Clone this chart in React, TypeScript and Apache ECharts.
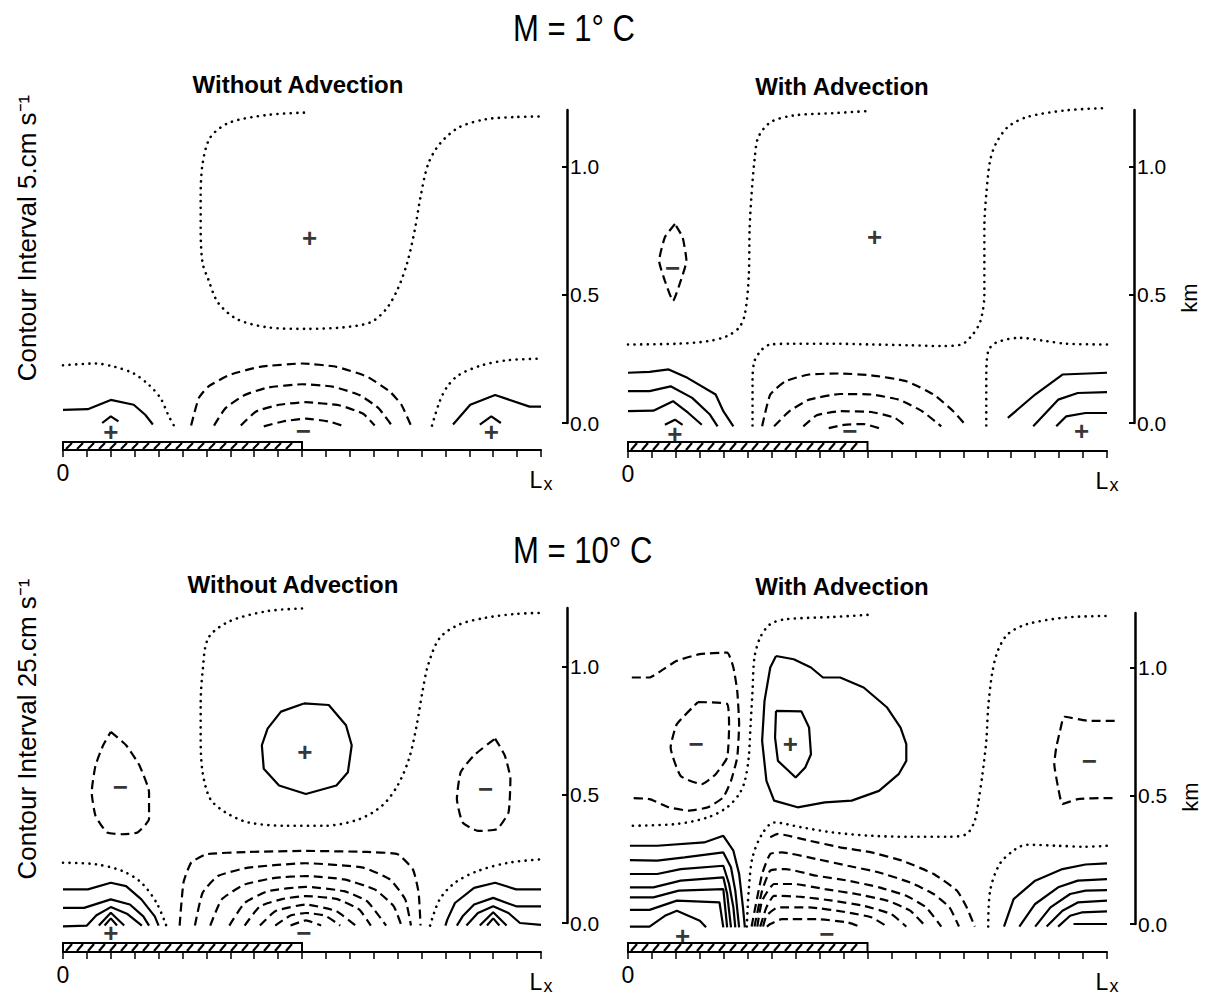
import React, { useEffect, useRef } from "react";
import * as echarts from "echarts";

type Pt = [number, number];

// ---------- text ----------
const mainTitles = ["M = 1° C", "M = 10° C"];
const panelTitles = ["Without Advection", "With Advection"];
const intervalLabels = ["Contour Interval 5.cm s⁻¹", "Contour Interval 25.cm s⁻¹"];
const unitLabel = "km";
const xTickLabels = ["0", "L", "x"];
const landSpan: Pt[] = [[0, 0.5]];

// ---------- M = 1 C, without advection ----------
const tlZero: Pt[][] = [
  [[0.504,1.21],[0.428,1.201],[0.348,1.171],[0.308,1.113],[0.292,1.01],[0.288,0.882],[0.288,0.753],[0.292,0.624],[0.304,0.56],[0.324,0.47],[0.364,0.405],[0.428,0.373],[0.508,0.367],[0.588,0.373],[0.644,0.393],[0.676,0.444],[0.7,0.521],[0.72,0.624],[0.736,0.753],[0.748,0.882],[0.764,1.01],[0.788,1.088],[0.828,1.152],[0.884,1.184],[0.948,1.193],[1.0,1.195]],
  [[0,0.225],[0.068,0.232],[0.108,0.219],[0.148,0.193],[0.18,0.148],[0.204,0.097],[0.22,0.032],[0.232,-0.01]],
  [[0.772,-0.01],[0.788,0.084],[0.804,0.142],[0.828,0.187],[0.876,0.225],[0.932,0.245],[1.0,0.251]],
];
const tlNeg: Pt[][] = [
  [[0.268,-0.01],[0.284,0.097],[0.304,0.142],[0.348,0.187],[0.412,0.219],[0.5,0.232],[0.572,0.219],[0.636,0.181],[0.684,0.122],[0.708,0.071],[0.728,-0.01]],
  [[0.316,-0.01],[0.34,0.058],[0.38,0.109],[0.428,0.138],[0.5,0.151],[0.564,0.142],[0.62,0.109],[0.66,0.058],[0.688,-0.01]],
  [[0.372,-0.01],[0.404,0.045],[0.452,0.071],[0.508,0.081],[0.58,0.068],[0.628,0.036],[0.652,-0.01]],
  [[0.42,-0.013],[0.46,0.006],[0.508,0.017],[0.556,0.006],[0.588,-0.013]],
];
const tlPos: Pt[][] = [
  [[0,0.051],[0.052,0.054],[0.1,0.09],[0.148,0.071],[0.172,0.032],[0.188,-0.006]],
  [[0.082,0.0],[0.1,0.026],[0.116,0.006]],
  [[0.816,-0.006],[0.852,0.071],[0.904,0.109],[0.976,0.064],[1.0,0.064]],
  [[0.872,-0.006],[0.896,0.026],[0.916,0.0]],
];
const tlPlus: Pt[] = [[0.1,-0.034],[0.896,-0.034],[0.516,0.721]];
const tlMinus: Pt[] = [[0.503,-0.032]];

// ---------- M = 1 C, with advection ----------
const trZero: Pt[][] = [
  [[0,0.306],[0.102,0.309],[0.167,0.319],[0.207,0.339],[0.232,0.372],[0.244,0.424],[0.252,0.567],[0.254,0.763],[0.258,0.893],[0.264,1.023],[0.272,1.114],[0.298,1.173],[0.346,1.199],[0.428,1.208],[0.5,1.216]],
  [[0.26,-0.01],[0.26,0.163],[0.264,0.241],[0.28,0.287],[0.297,0.306],[0.346,0.309],[0.428,0.309],[0.509,0.306],[0.59,0.303],[0.655,0.3],[0.696,0.306],[0.72,0.346],[0.736,0.398],[0.744,0.502],[0.744,0.632],[0.744,0.763],[0.748,0.893],[0.756,1.023],[0.768,1.089],[0.793,1.154],[0.833,1.193],[0.915,1.219],[1.0,1.228]],
  [[0.748,-0.01],[0.748,0.176],[0.752,0.28],[0.768,0.313],[0.817,0.332],[0.874,0.319],[0.915,0.309],[1.0,0.306]],
];
const trNeg: Pt[][] = [
  [[0.098,0.776],[0.077,0.724],[0.065,0.632],[0.077,0.554],[0.094,0.476],[0.11,0.554],[0.122,0.632],[0.114,0.724],[0.098,0.776]],
  [[0.28,-0.013],[0.297,0.111],[0.329,0.163],[0.378,0.189],[0.443,0.193],[0.508,0.186],[0.581,0.163],[0.638,0.111],[0.679,0.046],[0.707,-0.013]],
  [[0.305,-0.013],[0.337,0.046],[0.378,0.091],[0.443,0.113],[0.508,0.111],[0.565,0.091],[0.614,0.046],[0.654,-0.013]],
  [[0.366,-0.013],[0.394,0.03],[0.443,0.046],[0.508,0.043],[0.557,0.02],[0.581,-0.013]],
  [[0.419,-0.02],[0.451,-0.007],[0.492,-0.004],[0.524,-0.02]],
];
const trPos: Pt[][] = [
  [[0,0.196],[0.045,0.199],[0.085,0.209],[0.124,0.176],[0.183,0.111],[0.199,0.046],[0.22,-0.013]],
  [[0,0.124],[0.045,0.124],[0.089,0.143],[0.134,0.098],[0.171,0.033],[0.187,-0.013]],
  [[0,0.046],[0.053,0.048],[0.094,0.085],[0.126,0.039],[0.154,-0.007]],
  [[0.077,-0.007],[0.098,0.013],[0.114,-0.007]],
  [[0.793,0.02],[0.85,0.111],[0.907,0.189],[1.0,0.196]],
  [[0.846,-0.013],[0.898,0.091],[0.939,0.117],[1.0,0.12]],
  [[0.894,-0.013],[0.915,0.026],[0.955,0.039],[1.0,0.039]],
];
const trPlus: Pt[] = [[0.098,-0.042],[0.947,-0.033],[0.515,0.724]];
const trMinus: Pt[] = [[0.463,-0.03],[0.093,0.606]];

// ---------- M = 10 C, without advection ----------
const blZero: Pt[][] = [
  [[0.5,1.226],[0.428,1.216],[0.348,1.176],[0.304,1.111],[0.292,0.98],[0.288,0.85],[0.288,0.719],[0.292,0.588],[0.308,0.484],[0.34,0.431],[0.388,0.392],[0.468,0.379],[0.548,0.379],[0.62,0.405],[0.668,0.458],[0.7,0.536],[0.724,0.641],[0.74,0.771],[0.752,0.902],[0.764,1.007],[0.788,1.111],[0.828,1.163],[0.884,1.19],[0.948,1.205],[1.0,1.209]],
  [[0,0.235],[0.068,0.229],[0.124,0.203],[0.164,0.157],[0.196,0.078],[0.216,-0.01]],
  [[0.768,-0.01],[0.788,0.092],[0.82,0.157],[0.868,0.203],[0.932,0.235],[1.0,0.248]],
];
const blNeg: Pt[][] = [
  [[0.1,0.745],[0.132,0.693],[0.16,0.614],[0.18,0.51],[0.18,0.405],[0.156,0.353],[0.124,0.346],[0.092,0.353],[0.068,0.418],[0.06,0.51],[0.068,0.614],[0.084,0.693],[0.1,0.745]],
  [[0.904,0.719],[0.924,0.654],[0.936,0.562],[0.932,0.431],[0.908,0.366],[0.868,0.359],[0.836,0.392],[0.824,0.484],[0.832,0.588],[0.86,0.654],[0.904,0.719]],
  [[0.244,-0.01],[0.252,0.157],[0.268,0.235],[0.3,0.268],[0.388,0.277],[0.508,0.281],[0.636,0.277],[0.7,0.268],[0.732,0.209],[0.744,0.118],[0.748,-0.01]],
  [[0.276,-0.01],[0.292,0.118],[0.324,0.183],[0.388,0.216],[0.508,0.233],[0.628,0.216],[0.684,0.17],[0.716,0.092],[0.728,-0.01]],
  [[0.308,-0.01],[0.332,0.092],[0.38,0.15],[0.444,0.176],[0.508,0.183],[0.588,0.17],[0.652,0.131],[0.692,0.065],[0.708,-0.01]],
  [[0.348,-0.01],[0.38,0.078],[0.428,0.124],[0.508,0.141],[0.588,0.124],[0.636,0.085],[0.676,-0.01]],
  [[0.38,-0.01],[0.412,0.065],[0.46,0.094],[0.508,0.105],[0.572,0.094],[0.62,0.052],[0.644,-0.01]],
  [[0.412,-0.01],[0.444,0.046],[0.508,0.072],[0.572,0.046],[0.612,-0.01]],
  [[0.444,-0.01],[0.476,0.029],[0.508,0.039],[0.548,0.029],[0.58,-0.01]],
  [[0.476,-0.01],[0.508,0.01],[0.54,-0.01]],
];
const blPos: Pt[][] = [
  [[0.504,0.856],[0.556,0.85],[0.592,0.771],[0.604,0.693],[0.596,0.588],[0.572,0.536],[0.508,0.503],[0.452,0.536],[0.42,0.601],[0.416,0.693],[0.428,0.758],[0.456,0.824],[0.504,0.856]],
  [[0,0.131],[0.052,0.131],[0.1,0.157],[0.132,0.144],[0.164,0.092],[0.192,0.026],[0.2,-0.01]],
  [[0,0.059],[0.044,0.059],[0.1,0.092],[0.14,0.072],[0.168,0.026],[0.18,-0.01]],
  [[0,-0.013],[0.05,-0.01],[0.07,0.03],[0.1,0.062],[0.135,0.035],[0.165,-0.01]],
  [[0.075,-0.01],[0.1,0.04],[0.128,-0.01]],
  [[0.087,-0.01],[0.1,0.018],[0.113,-0.01]],
  [[1.0,0.131],[0.948,0.131],[0.904,0.157],[0.86,0.137],[0.82,0.078],[0.804,0.013],[0.8,-0.01]],
  [[1.0,0.065],[0.948,0.065],[0.9,0.098],[0.86,0.072],[0.836,0.026],[0.824,-0.01]],
  [[1.0,-0.007],[0.956,0.0],[0.932,0.039],[0.9,0.065],[0.868,0.039],[0.844,-0.01]],
  [[0.872,-0.01],[0.9,0.042],[0.928,-0.01]],
  [[0.887,-0.01],[0.9,0.018],[0.913,-0.01]],
];
const blPlus: Pt[] = [[0.1,-0.039],[0.506,0.667]];
const blMinus: Pt[] = [[0.504,-0.04],[0.12,0.529],[0.884,0.523]];

// ---------- M = 10 C, with advection ----------
const brZero: Pt[][] = [
  [[0.5,1.205],[0.427,1.197],[0.329,1.188],[0.297,1.169],[0.276,1.117],[0.264,1.039],[0.26,0.909],[0.256,0.779],[0.252,0.649],[0.244,0.558],[0.232,0.506],[0.207,0.455],[0.167,0.416],[0.102,0.39],[0.004,0.383]],
  [[0.248,-0.01],[0.252,0.13],[0.26,0.26],[0.28,0.351],[0.305,0.396],[0.362,0.377],[0.427,0.357],[0.508,0.344],[0.589,0.34],[0.671,0.34],[0.707,0.351],[0.724,0.403],[0.732,0.481],[0.74,0.584],[0.748,0.714],[0.752,0.844],[0.76,0.974],[0.772,1.065],[0.793,1.13],[0.833,1.169],[0.915,1.195],[1.0,1.201]],
  [[0.752,-0.01],[0.756,0.13],[0.776,0.234],[0.809,0.292],[0.833,0.309],[0.898,0.305],[0.955,0.301],[1.0,0.305]],
];
const brNeg: Pt[][] = [
  [[0.008,0.961],[0.045,0.961],[0.069,0.987],[0.102,1.026],[0.15,1.052],[0.207,1.058],[0.22,1.0],[0.228,0.909],[0.232,0.779],[0.228,0.649],[0.215,0.558],[0.199,0.494],[0.167,0.455],[0.126,0.442],[0.085,0.455],[0.045,0.487],[0.004,0.491]],
  [[0.146,0.865],[0.207,0.858],[0.211,0.768],[0.207,0.649],[0.183,0.584],[0.154,0.545],[0.11,0.577],[0.089,0.688],[0.102,0.779],[0.146,0.865]],
  [[1.016,0.792],[0.963,0.792],[0.911,0.808],[0.902,0.753],[0.894,0.688],[0.89,0.623],[0.898,0.532],[0.907,0.468],[0.939,0.487],[0.996,0.491],[1.016,0.491]],
  [[0.297,0.338],[0.313,0.351],[0.378,0.325],[0.443,0.299],[0.508,0.279],[0.572,0.247],[0.638,0.195],[0.687,0.13],[0.707,0.065],[0.724,-0.01]],
  [[0.258,-0.01],[0.28,0.195],[0.297,0.273],[0.321,0.279],[0.394,0.253],[0.459,0.227],[0.524,0.201],[0.589,0.162],[0.638,0.117],[0.671,0.065],[0.691,-0.01]],
  [[0.264,-0.01],[0.28,0.13],[0.297,0.208],[0.329,0.214],[0.394,0.188],[0.459,0.169],[0.524,0.143],[0.581,0.11],[0.622,0.065],[0.654,-0.01]],
  [[0.27,-0.01],[0.28,0.091],[0.305,0.156],[0.346,0.156],[0.411,0.136],[0.476,0.117],[0.541,0.091],[0.589,0.052],[0.622,-0.01]],
  [[0.276,-0.01],[0.289,0.065],[0.305,0.11],[0.362,0.106],[0.427,0.091],[0.492,0.071],[0.549,0.039],[0.581,-0.01]],
  [[0.282,-0.01],[0.289,0.032],[0.313,0.065],[0.378,0.065],[0.459,0.045],[0.508,0.026],[0.541,-0.01]],
  [[0.29,-0.01],[0.297,0.0],[0.321,0.019],[0.394,0.019],[0.459,0.006],[0.484,-0.01]],
];
const brPos: Pt[][] = [
  [[0.309,1.045],[0.346,1.032],[0.382,1.0],[0.407,0.961],[0.443,0.961],[0.492,0.922],[0.541,0.844],[0.569,0.766],[0.581,0.701],[0.581,0.636],[0.565,0.584],[0.524,0.519],[0.467,0.481],[0.411,0.474],[0.354,0.455],[0.305,0.481],[0.289,0.558],[0.28,0.714],[0.285,0.87],[0.297,1.0],[0.309,1.045]],
  [[0.309,0.831],[0.362,0.829],[0.378,0.766],[0.382,0.662],[0.37,0.61],[0.35,0.571],[0.313,0.636],[0.307,0.727],[0.309,0.831]],
  [[0.004,0.305],[0.061,0.305],[0.159,0.318],[0.199,0.344],[0.22,0.286],[0.232,0.195],[0.24,0.065],[0.244,-0.013]],
  [[0.004,0.249],[0.061,0.247],[0.118,0.26],[0.199,0.279],[0.215,0.221],[0.224,0.13],[0.232,-0.013]],
  [[0.004,0.195],[0.061,0.195],[0.11,0.214],[0.199,0.227],[0.211,0.156],[0.22,0.065],[0.224,-0.013]],
  [[0.004,0.143],[0.053,0.143],[0.11,0.169],[0.199,0.182],[0.207,0.117],[0.215,-0.013]],
  [[0.004,0.104],[0.053,0.104],[0.106,0.13],[0.199,0.136],[0.207,-0.013]],
  [[0.004,0.055],[0.045,0.055],[0.102,0.091],[0.191,0.084],[0.199,-0.013]],
  [[0.004,-0.01],[0.045,-0.01],[0.077,0.032],[0.102,0.052],[0.15,0.013],[0.163,-0.013]],
  [[0.785,-0.01],[0.805,0.097],[0.85,0.169],[0.907,0.214],[0.955,0.232],[1.0,0.236]],
  [[0.817,-0.01],[0.85,0.078],[0.898,0.143],[0.939,0.169],[1.0,0.175]],
  [[0.85,-0.01],[0.882,0.065],[0.923,0.117],[0.955,0.13],[1.0,0.132]],
  [[0.874,-0.01],[0.907,0.052],[0.939,0.084],[1.0,0.091]],
  [[0.898,-0.01],[0.923,0.032],[0.947,0.045],[1.0,0.049]],
  [[0.93,0.0],[1.0,0.0]],
];
const brPlus: Pt[] = [[0.114,-0.045],[0.339,0.701]];
const brMinus: Pt[] = [[0.415,-0.04],[0.142,0.701],[0.963,0.636]];

const yTicks = { min: 0, interval: 0.5 };

const FONT = '"Liberation Sans", Arial, Helvetica, sans-serif';

const panels = [
  { x0: 63, lx: 478, axisX: 567, y0: 423, top: 110, stripTop: 442, stripH: 8, zero: tlZero, neg: tlNeg, pos: tlPos, plus: tlPlus, minus: tlMinus },
  { x0: 628, lx: 479, axisX: 1134, y0: 423, top: 110, stripTop: 442, stripH: 9, zero: trZero, neg: trNeg, pos: trPos, plus: trPlus, minus: trMinus },
  { x0: 63, lx: 478, axisX: 567, y0: 923, top: 608, stripTop: 943, stripH: 9, zero: blZero, neg: blNeg, pos: blPos, plus: blPlus, minus: blMinus },
  { x0: 628, lx: 479, axisX: 1135, y0: 924, top: 613, stripTop: 943, stripH: 9, zero: brZero, neg: brNeg, pos: brPos, plus: brPlus, minus: brMinus },
];
const KM_PX = 256.5;

function buildOption() {
  const grid: any[] = [];
  const xAxis: any[] = [];
  const yAxis: any[] = [];
  const series: any[] = [];
  const n = panels.length;

  panels.forEach((p, i) => {
    const ymax = (p.y0 - p.top) / KM_PX;
    grid.push({ left: p.x0, top: p.top, width: p.axisX - p.x0, height: p.y0 - p.top });
    xAxis.push({ gridIndex: i, type: "value", min: 0, max: (p.axisX - p.x0) / p.lx, show: false });
    yAxis.push({
      gridIndex: i, type: "value", position: "right", min: yTicks.min, max: ymax, interval: yTicks.interval,
      axisLine: { show: true, onZero: false, lineStyle: { color: "#000", width: 2.5 } },
      axisTick: { show: true, inside: true, length: 5, lineStyle: { color: "#000", width: 2 } },
      axisLabel: { show: true, margin: 3, color: "#000", fontSize: 21, fontFamily: FONT, formatter: (v: number) => v.toFixed(1), showMaxLabel: false },
      splitLine: { show: false },
    });
  });
  panels.forEach((p, i) => {
    grid.push({ left: p.x0, top: p.stripTop, width: p.lx, height: p.stripH });
    xAxis.push({
      gridIndex: n + i, type: "value", min: 0, max: 1, interval: 0.05, position: "bottom",
      axisLine: { show: true, onZero: false, lineStyle: { color: "#000", width: 2 } },
      axisTick: { show: true, length: 7, lineStyle: { color: "#000", width: 1.5 } },
      axisLabel: {
        show: true, margin: 11, color: "#000", fontSize: 23, fontFamily: FONT,
        formatter: (v: number) => (Math.abs(v) < 1e-9 ? xTickLabels[0] : Math.abs(v - 1) < 1e-9 ? `{L|${xTickLabels[1]}}{s|${xTickLabels[2]}}` : ""),
        rich: {
          L: { fontSize: 23, fontFamily: FONT, color: "#000", padding: [6, 0, 0, 0] },
          s: { fontSize: 18, fontFamily: FONT, color: "#000", padding: [14, 0, 0, 1] },
        },
      },
      splitLine: { show: false },
    });
    yAxis.push({ gridIndex: n + i, type: "value", min: 0, max: 1, show: false });
  });

  const lineSeries = (lines: Pt[][], kind: "zero" | "neg" | "pos", idx: number) =>
    lines.map((d) => ({
      type: "line", xAxisIndex: idx, yAxisIndex: idx, data: d, symbol: "none", clip: false, silent: true,
      smooth: kind === "pos" ? false : kind === "zero" ? 0.3 : 0.15,
      lineStyle: kind === "zero"
        ? { color: "#000", width: 2.6, type: [0.1, 6.5], cap: "round" }
        : kind === "neg"
        ? { color: "#000", width: 2.2, type: [9, 5] }
        : { color: "#000", width: 2.2 },
    }));

  const markSeries = (pts: Pt[], text: string, idx: number, size: number) => ({
    type: "scatter", xAxisIndex: idx, yAxisIndex: idx, data: pts, symbol: "circle", symbolSize: 0.1,
    itemStyle: { color: "rgba(0,0,0,0)" }, silent: true, clip: false,
    label: { show: true, position: "inside", formatter: text, color: "#000", fontSize: size, fontWeight: "bold", fontFamily: FONT },
  });

  panels.forEach((p, i) => {
    series.push(...lineSeries(p.zero, "zero", i));
    series.push(...lineSeries(p.neg, "neg", i));
    series.push(...lineSeries(p.pos, "pos", i));
    series.push(markSeries(p.plus, "+", i, 26));
    series.push(markSeries(p.minus, "−", i, 26));
    series.push({
      type: "custom", xAxisIndex: n + i, yAxisIndex: n + i, data: landSpan, silent: true, clip: false,
      encode: { x: [0, 1] },
      renderItem: (_params: any, api: any) => {
        const a = api.coord([api.value(0), 1]);
        const b = api.coord([api.value(1), 0]);
        const children: any[] = [
          { type: "rect", shape: { x: a[0], y: a[1], width: b[0] - a[0], height: b[1] - a[1] }, style: { fill: "#fff", stroke: "#000", lineWidth: 2 } },
        ];
        for (let x = a[0] + 3; x + 6 < b[0]; x += 11) {
          children.push({ type: "line", shape: { x1: x, y1: b[1] - 1, x2: x + 6, y2: a[1] + 1 }, style: { stroke: "#000", lineWidth: 2.2 } });
        }
        return { type: "group", children };
      },
    });
  });

  const txt = (text: string, x: number, y: number, size: number, opts: any = {}) => ({
    type: "text", x, y, rotation: opts.rotation || 0, scaleX: opts.scaleX || 1, silent: true,
    style: { text, fill: "#000", fontSize: size, fontFamily: FONT, fontWeight: opts.bold ? "bold" : "normal", align: opts.align || "center", verticalAlign: "middle" },
  });

  const graphic = [
    txt(mainTitles[0], 513, 28, 37, { align: "left", scaleX: 0.84 }),
    txt(mainTitles[1], 513, 550, 37, { align: "left", scaleX: 0.84 }),
    txt(panelTitles[0], 298, 84, 24, { bold: true }),
    txt(panelTitles[1], 842, 86, 24, { bold: true }),
    txt(panelTitles[0], 293, 584, 24, { bold: true }),
    txt(panelTitles[1], 842, 586, 24, { bold: true }),
    txt(intervalLabels[0], 27, 238, 26, { rotation: Math.PI / 2 }),
    txt(intervalLabels[1], 27, 729, 26, { rotation: Math.PI / 2 }),
    txt(unitLabel, 1189, 298, 22, { rotation: Math.PI / 2 }),
    txt(unitLabel, 1190, 797, 22, { rotation: Math.PI / 2 }),
  ];

  return { animation: false, backgroundColor: "#fff", grid, xAxis, yAxis, series, graphic };
}

export default function App() {
  const ref = useRef<HTMLDivElement>(null);
  useEffect(() => {
    if (!ref.current) return;
    const chart = echarts.init(ref.current, null, { renderer: "svg" });
    chart.setOption(buildOption() as any);
    return () => chart.dispose();
  }, []);
  return <div ref={ref} style={{ position: "absolute", left: 0, top: 0, width: 1211, height: 996, background: "#fff" }} />;
}
